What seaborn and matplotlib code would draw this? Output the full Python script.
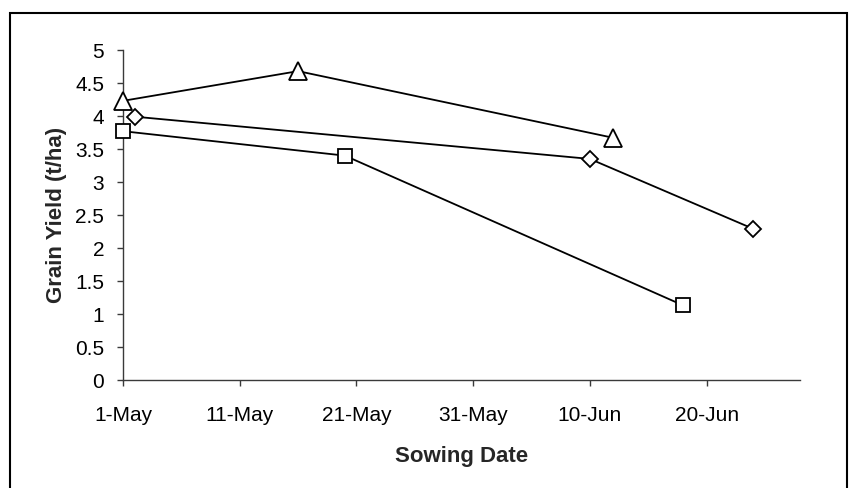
import matplotlib
matplotlib.use("Agg")
import matplotlib.pyplot as plt
import matplotlib.dates as mdates
from matplotlib.patches import Rectangle
import pandas as pd
import seaborn as sns

# Grain yield (t/ha) by sowing date for three treatments
tri_dates = ["2000-05-01", "2000-05-16", "2000-06-12"]
tri_yield = [4.23, 4.68, 3.67]

dia_dates = ["2000-05-02", "2000-06-10", "2000-06-24"]
dia_yield = [3.99, 3.35, 2.29]

sq_dates = ["2000-05-01", "2000-05-20", "2000-06-18"]
sq_yield = [3.77, 3.40, 1.13]

tick_dates = ["2000-05-01", "2000-05-11", "2000-05-21", "2000-05-31", "2000-06-10", "2000-06-20"]
tick_labels = ["1-May", "11-May", "21-May", "31-May", "10-Jun", "20-Jun"]
y_ticks = [0, 0.5, 1, 1.5, 2, 2.5, 3, 3.5, 4, 4.5, 5]
y_labels = ["0", "0.5", "1", "1.5", "2", "2.5", "3", "3.5", "4", "4.5", "5"]

sns.set_style("ticks")
plt.rcParams["font.family"] = ["Liberation Sans", "DejaVu Sans"]

fig = plt.figure(figsize=(8.49, 4.88), dpi=100)
ax = fig.add_axes([0.1449, 0.2213, 0.9423 - 0.1449, 0.8975 - 0.2213])

series = [
    (tri_dates, tri_yield, "^", 12.5),
    (dia_dates, dia_yield, "D", 8.6),
    (sq_dates, sq_yield, "s", 10.5),
]
for dates, vals, mk, ms in series:
    df = pd.DataFrame({"date": pd.to_datetime(dates), "yield": vals})
    sns.lineplot(data=df, x="date", y="yield", ax=ax, color="black", lw=1.3,
                 marker=mk, markersize=ms, markerfacecolor="white",
                 markeredgecolor="black", markeredgewidth=1.3, zorder=3,
                 clip_on=False)

ax.set_xlim(pd.Timestamp("2000-05-01"), pd.Timestamp("2000-06-28"))
ax.set_ylim(0, 5)
ax.set_xticks(pd.to_datetime(tick_dates))
ax.set_xticklabels(tick_labels)
ax.set_yticks(y_ticks)
ax.set_yticklabels(y_labels)

for side in ("top", "right"):
    ax.spines[side].set_visible(False)
for side in ("left", "bottom"):
    ax.spines[side].set_color("#3a3a3a")
    ax.spines[side].set_linewidth(1.0)
    ax.spines[side].set_zorder(1)
ax.tick_params(axis="both", direction="out", length=4.5, width=1.0,
               color="#3a3a3a", labelsize=15, labelcolor="black")
ax.tick_params(axis="y", pad=9)
ax.tick_params(axis="x", pad=14)

ax.set_xlabel("Sowing Date", fontsize=16, fontweight="bold", labelpad=15)
ax.set_ylabel("Grain Yield (t/ha)", fontsize=16, fontweight="bold", labelpad=6)
ax.grid(False)

# outer chart frame
fig.patches.append(Rectangle((10 / 849, -0.05), (847 - 10) / 849, (488 - 13) / 488 + 0.05,
                             transform=fig.transFigure, fill=False,
                             edgecolor="black", linewidth=1.5, zorder=0))

fig.savefig("out.png", dpi=100)
